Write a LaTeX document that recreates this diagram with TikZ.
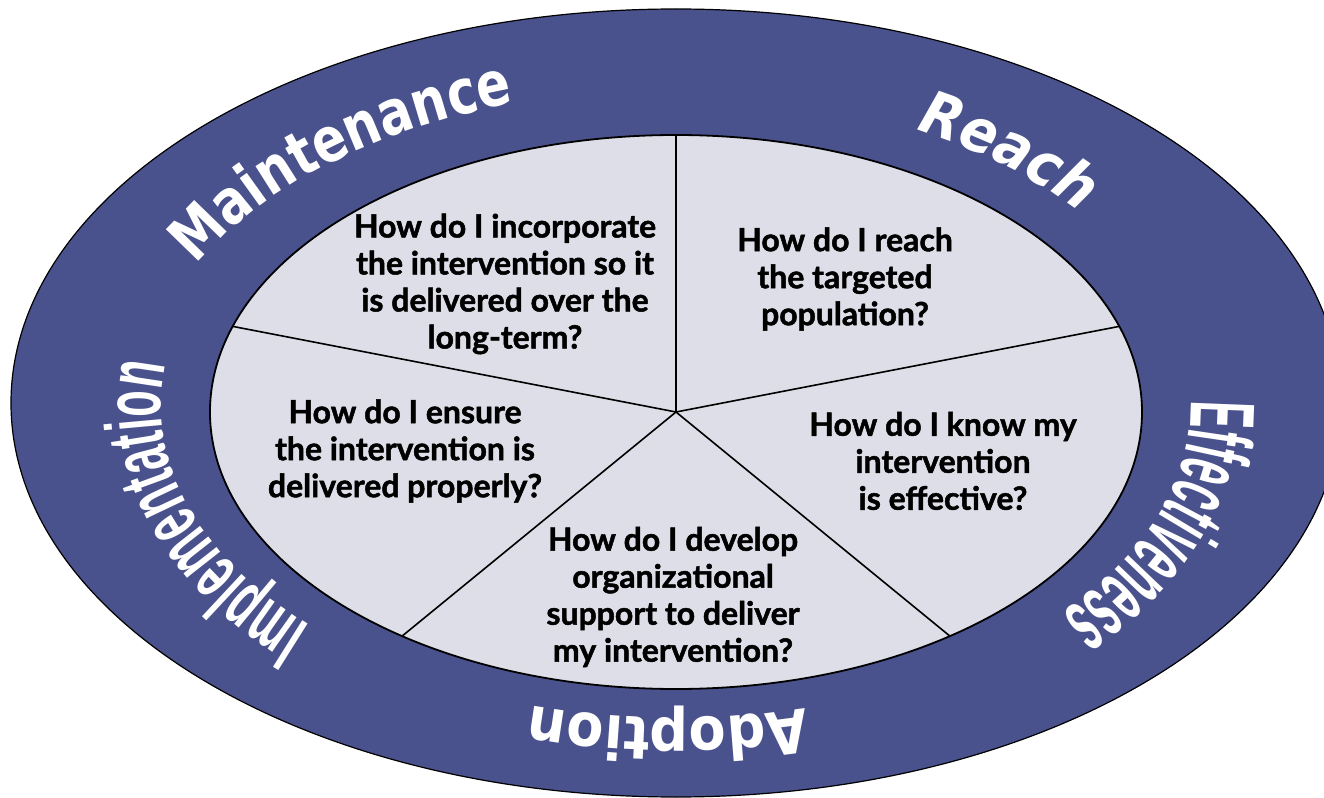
\documentclass[tikz,border=0pt]{standalone}
\usepackage{fontspec}
\setmainfont{Lato}
\newfontfamily\qfont{Lato}[BoldFeatures={FakeBold=1.5}]
\newfontfamily\bandfont{DejaVu Sans}[FakeStretch=0.9]
\newfontfamily\bandnarrow{DejaVu Sans}[FakeStretch=0.81]
\newfontfamily\condfont{Liberation Sans}[FakeStretch=0.44]
\newfontfamily\condwide{Liberation Sans}[FakeStretch=0.54]
\usetikzlibrary{calc}
\usetikzlibrary{decorations.text}
\definecolor{bandblue}{RGB}{73,82,140}
\definecolor{pielight}{RGB}{221,222,231}

\begin{document}
\begin{tikzpicture}[x=0.5pt,y=0.5pt,font=\qfont\bfseries\fontsize{16}{18.5}\selectfont]
	\useasboundingbox (-676,-390) rectangle (648,408);
	\coordinate (c) at (0,-4);
	\draw[fill=bandblue,line width=0.6pt] (0,5) ellipse [x radius=665,y radius=394];
	\draw[fill=pielight,line width=0.9pt] (c) ellipse [x radius=466,y radius=277];
	\foreach \a in {90,18,-54,-126,162} {
		\draw[line width=0.8pt] (c) -- ($(c)+(\a:466 and 277)$);
	}
	\node[align=center] (qmaint) at (-171,124) {How do I incorporate\\the intervention so it\\is delivered over the\\long-term?};
	\node[align=center] (qreach) at (169,129) {How do I reach\\the targeted\\population?};
	\node[align=center] (qeffect) at (267,-53) {How do I know my\\intervention\\is effective?};
	\node[align=center] (qimpl) at (-271,-43) {How do I ensure\\the intervention is\\delivered properly?};
	\node[align=center] (qadopt) at (-3,-189) {How do I develop\\organizational\\support to deliver\\my intervention?};
	\path[shift={(0,2)},decorate,decoration={text along path,text align=center,
		text={|\bandnarrow\bfseries\fontsize{31}{31}\selectfont\color{white}|Maintenance}}]
		(162:535 and 318) arc[start angle=162,end angle=102,x radius=535,y radius=318];
	\path[shift={(0,2)},decorate,decoration={text along path,text align=center,
		text={|\bandfont\bfseries\itshape\fontsize{30}{30}\selectfont\color{white}|Reach}}]
		(73.5:515 and 312) arc[start angle=73.5,end angle=23.5,x radius=515,y radius=312];
	\path[shift={(0,2)},decorate,decoration={text along path,text align=center,
		text={|\condfont\bfseries\fontsize{46}{46}\selectfont\color{white}|Effectiveness}}]
		(8.7:515 and 312) arc[start angle=8.7,end angle=-47.3,x radius=515,y radius=312];
	\path[shift={(0,2)},decorate,decoration={text along path,text align=center,
		text={|\bandfont\bfseries\fontsize{30}{30}\selectfont\color{white}|Adoption}}]
		(-51:515 and 312) arc[start angle=-51,end angle=-131,x radius=515,y radius=312];
	\path[shift={(0,2)},decorate,decoration={text along path,text align=center,
		text={|\condwide\bfseries\fontsize{40}{40}\selectfont\color{white}|Implementation}}]
		(228:515 and 312) arc[start angle=228,end angle=168,x radius=515,y radius=312];
\end{tikzpicture}
\end{document}
